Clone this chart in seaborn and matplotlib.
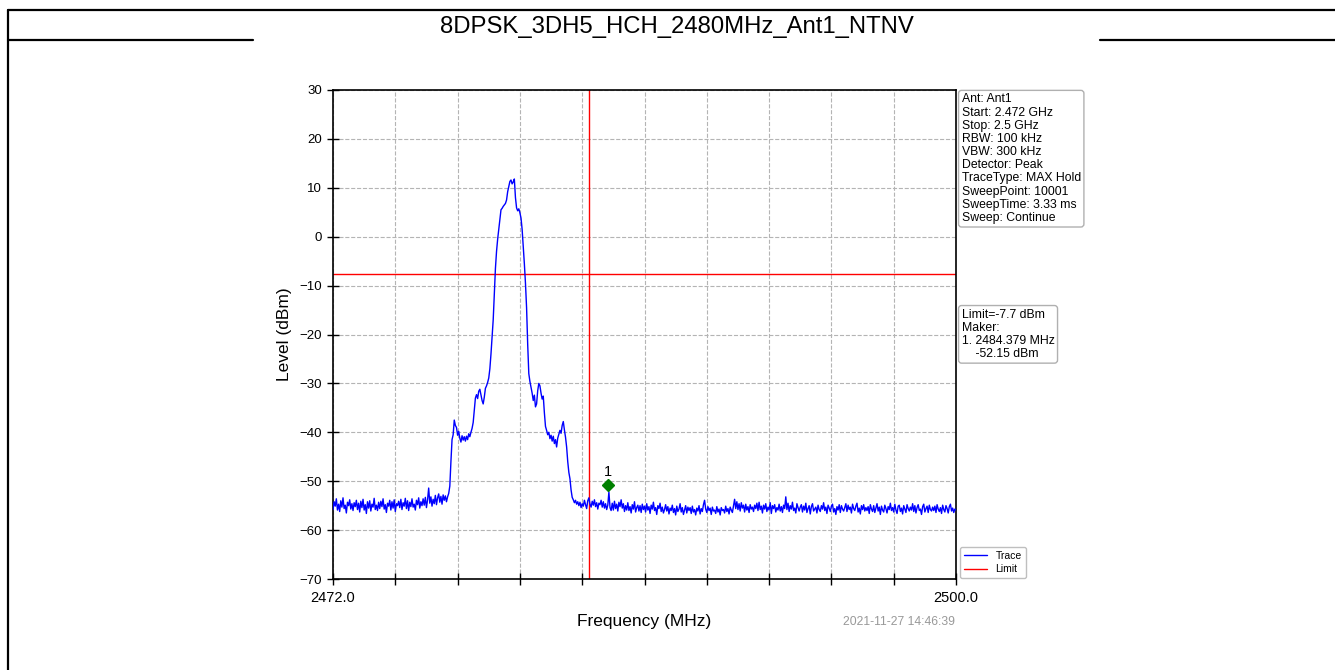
import numpy as np
import pandas as pd
import matplotlib
matplotlib.use("Agg")
import matplotlib.pyplot as plt
import matplotlib.transforms as mtransforms
from matplotlib.lines import Line2D
import seaborn as sns

# ---------------- data ----------------
title = "8DPSK_3DH5_HCH_2480MHz_Ant1_NTNV"
freq_start_mhz = 2472.0
freq_stop_mhz = 2500.0
freq_step_mhz = 0.05
limit_dbm = -7.7
band_edge_mhz = 2483.5
marker_freq_mhz = 2484.379
marker_level_dbm = -52.15
marker_label = "1"
y_ticks = [-70, -60, -50, -40, -30, -20, -10, 0, 10, 20, 30]
x_tick_labels = ["2472.0", "", "", "", "", "", "", "", "", "", "2500.0"]
timestamp = "2021-11-27 14:46:39"
info_lines = ["Ant: Ant1", "Start: 2.472 GHz", "Stop: 2.5 GHz", "RBW: 100 kHz",
              "VBW: 300 kHz", "Detector: Peak", "TraceType: MAX Hold",
              "SweepPoint: 10001", "SweepTime: 3.33 ms", "Sweep: Continue"]
limit_lines = ["Limit=-7.7 dBm", "Maker:", "1. 2484.379 MHz", "    -52.15 dBm"]

# trace levels (dBm), one row per MHz, 0.05 MHz apart
level_dbm = [
    -55.8, -54.2, -55.1, -53.6, -55.9, -54.7, -56.2, -54.0, -55.3, -53.4, -55.6, -54.9, -56.5, -54.3, -55.0, -53.8, -55.7, -54.6, -56.0, -54.4,  # 2472
    -55.2, -53.9, -55.8, -54.5, -56.3, -54.1, -55.4, -53.7, -55.9, -54.8, -56.6, -54.2, -55.5, -54.0, -56.1, -54.7, -55.3, -53.5, -55.8, -54.9,  # 2473
    -56.0, -54.3, -55.6, -54.1, -55.2, -53.6, -55.7, -54.8, -56.4, -54.5, -55.1, -53.9, -55.9, -54.2, -55.5, -53.8, -56.2, -54.6, -55.0, -54.1,  # 2474
    -55.4, -53.7, -55.8, -54.4, -55.1, -53.5, -55.6, -54.0, -56.0, -54.3, -55.2, -53.6, -55.3, -54.7, -55.9, -53.9, -54.8, -53.4, -55.5, -54.2,  # 2475
    -55.0, -53.6, -54.9, -53.3, -55.4, -53.8, -51.4, -54.5, -53.2, -55.1, -53.7, -54.6, -52.9, -54.8, -53.4, -52.6, -54.3, -53.1, -54.7, -52.8,  # 2476
    -53.9, -53.0, -54.2, -53.2, -52.5, -51.0, -46.0, -41.5, -40.5, -37.5, -38.6, -39.0, -40.6, -39.8, -41.2, -42.0, -40.7, -41.6, -40.9, -41.8,  # 2477
    -40.8, -41.5, -40.3, -40.9, -40.0, -39.2, -38.0, -35.5, -33.0, -32.3, -33.1, -31.6, -31.2, -32.4, -33.5, -34.2, -32.8, -31.0, -30.5, -29.8,  # 2478
    -28.9, -27.0, -24.0, -20.5, -17.0, -11.5, -6.5, -3.0, -0.5, 1.5, 3.5, 5.5, 5.8, 6.2, 6.5, 6.8, 7.5, 9.2, 10.2, 11.3,  # 2479
    11.6, 10.8, 11.2, 11.8, 8.0, 5.9, 5.3, 5.7, 4.9, 3.8, 1.5, -2.0, -5.5, -9.5, -14.5, -22.0, -28.0, -29.6, -30.8, -32.0,  # 2480
    -33.5, -32.4, -34.8, -34.2, -31.5, -30.0, -30.5, -32.0, -33.2, -32.6, -36.0, -38.8, -39.6, -40.5, -40.0, -41.3, -40.6, -41.8, -40.8, -42.3,  # 2481
    -41.5, -43.0, -41.2, -40.4, -39.6, -40.2, -38.6, -37.8, -39.5, -41.0, -43.0, -46.0, -48.2, -49.5, -51.8, -53.3, -53.8, -54.4, -53.9, -54.7,  # 2482
    -54.2, -55.0, -54.3, -55.4, -54.6, -55.1, -53.9, -54.8, -55.6, -54.0, -53.4, -54.7, -55.3, -54.1, -54.9, -53.8, -55.2, -54.4, -55.7, -54.5,  # 2483
    -54.8, -53.9, -55.3, -54.2, -55.5, -54.6, -55.8, -54.9, -52.2, -55.4, -56.0, -54.5, -55.9, -54.1, -55.6, -54.7, -56.1, -54.3, -55.2, -53.8,  # 2484
    -55.5, -54.6, -56.2, -55.0, -55.9, -54.4, -56.0, -55.2, -56.5, -54.8, -55.7, -54.2, -56.3, -55.4, -54.9, -56.1, -55.0, -56.4, -54.7, -55.8,  # 2485
    -55.1, -56.3, -54.6, -55.9, -55.2, -56.6, -54.9, -55.7, -54.3, -56.0, -55.4, -56.8, -55.0, -55.6, -54.5, -56.2, -55.3, -56.5, -55.8, -54.8,  # 2486
    -56.1, -55.2, -56.7, -55.5, -56.0, -54.9, -56.4, -55.6, -56.9, -55.1, -56.2, -55.7, -54.6, -56.3, -55.4, -56.8, -55.9, -55.0, -56.5, -55.3,  # 2487
    -56.0, -55.4, -56.6, -55.1, -56.3, -55.8, -56.9, -55.5, -56.1, -55.0, -56.7, -55.6, -56.2, -54.8, -53.9, -55.7, -56.4, -55.2, -56.0, -55.5,  # 2488
    -56.8, -55.3, -56.1, -55.9, -56.6, -55.2, -56.3, -55.7, -56.9, -55.4, -56.0, -55.8, -56.5, -55.1, -56.2, -55.6, -56.7, -55.3, -55.9, -56.4,  # 2489
    -55.0, -53.7, -55.6, -54.2, -55.8, -54.6, -56.1, -54.4, -55.5, -54.9, -56.3, -54.7, -55.9, -55.2, -56.4, -54.8, -55.7, -55.3, -56.2, -54.9,  # 2490
    -55.6, -54.5, -56.0, -54.3, -55.8, -55.1, -56.5, -54.9, -55.7, -54.6, -56.2, -55.3, -55.9, -54.4, -56.6, -55.0, -55.6, -54.8, -56.3, -55.4,  # 2491
    -55.9, -54.7, -56.1, -55.2, -56.4, -54.9, -55.6, -53.2, -55.8, -54.5, -56.2, -55.0, -55.7, -54.3, -56.0, -55.5, -56.5, -54.6, -55.4, -56.1,  # 2492
    -55.3, -54.8, -56.3, -55.1, -55.9, -54.5, -56.4, -55.6, -55.0, -56.7, -55.2, -54.6, -56.1, -55.7, -55.3, -56.5, -54.9, -55.8, -56.2, -55.0,  # 2493
    -55.7, -54.4, -56.0, -55.3, -56.6, -54.9, -55.5, -56.2, -55.1, -54.7, -56.3, -55.6, -56.8, -55.2, -55.9, -54.8, -56.4, -55.0, -55.7, -56.1,  # 2494
    -55.4, -54.6, -56.2, -54.9, -55.8, -55.3, -56.5, -54.7, -55.6, -56.0, -55.1, -54.5, -56.3, -55.5, -56.7, -55.0, -55.8, -54.8, -56.1, -55.4,  # 2495
    -56.0, -55.2, -56.6, -54.8, -55.7, -56.2, -55.0, -56.4, -55.5, -54.6, -56.1, -55.3, -56.8, -55.1, -55.9, -56.3, -54.9, -55.6, -56.5, -55.2,  # 2496
    -55.8, -54.5, -56.0, -55.4, -56.3, -54.7, -55.9, -56.6, -55.1, -54.9, -56.2, -55.5, -56.7, -55.0, -55.7, -56.4, -54.8, -55.6, -56.1, -55.3,  # 2497
    -55.9, -54.6, -56.2, -55.0, -56.5, -55.4, -54.8, -56.0, -55.7, -56.8, -55.2, -54.7, -56.3, -55.6, -55.1, -56.4, -54.9, -55.8, -56.1, -55.3,  # 2498
    -56.0, -55.1, -56.4, -54.8, -55.7, -56.2, -55.4, -56.6, -54.9, -55.8, -56.3, -55.0, -55.6, -56.5, -55.2, -54.7, -56.1, -55.5, -56.4, -55.7,  # 2499
    -55.9,  # 2500
]

# ---------------- figure ----------------
sns.set_style("ticks")
plt.rcParams["font.family"] = ["Liberation Sans", "DejaVu Sans"]
plt.rcParams["axes.unicode_minus"] = True
for key in ["text.color", "axes.labelcolor", "xtick.color", "ytick.color"]:
    plt.rcParams[key] = "black"

W, H = 1335, 670
fig = plt.figure(figsize=(W / 100, H / 100), dpi=100)
fig.patch.set_facecolor("white")

# outer frame and title band
frame_kw = dict(color="black", lw=1.6, transform=fig.transFigure, clip_on=False)
fig.add_artist(Line2D([8 / W, 8 / W], [0, 1 - 10 / H], **frame_kw))
fig.add_artist(Line2D([8 / W, 1], [1 - 10 / H, 1 - 10 / H], **frame_kw))
fig.add_artist(Line2D([8 / W, 253 / W], [1 - 40 / H, 1 - 40 / H], **frame_kw))
fig.add_artist(Line2D([1100 / W, 1], [1 - 40 / H, 1 - 40 / H], **frame_kw))
fig.text(677 / W, 1 - 26.5 / H, title, ha="center", va="center", fontsize=17.2)

ax = fig.add_axes([333 / W, 1 - 579 / H, 623 / W, 489 / H])

n = len(level_dbm)
freqs = freq_start_mhz + freq_step_mhz * np.arange(n)
df = pd.DataFrame({"Frequency (MHz)": freqs, "Level (dBm)": level_dbm})
sns.lineplot(data=df, x="Frequency (MHz)", y="Level (dBm)", ax=ax,
             color="#0000ff", lw=1.0, estimator=None, sort=False, zorder=3)

ax.axhline(limit_dbm, color="#ff0000", lw=1.0, zorder=2)
ax.axvline(band_edge_mhz, color="#ff0000", lw=1.0, zorder=2)

# marker
mk_tr = mtransforms.offset_copy(ax.transData, fig=fig, x=0, y=7, units="dots")
ax.plot([marker_freq_mhz], [marker_level_dbm], marker="D", color="#008000",
        ms=6, ls="none", transform=mk_tr, zorder=5)
txt_tr = mtransforms.offset_copy(ax.transData, fig=fig, x=0, y=20, units="dots")
ax.text(marker_freq_mhz, marker_level_dbm, marker_label, transform=txt_tr,
        ha="center", va="center", fontsize=10.5, zorder=5)

ax.set_xlim(freq_start_mhz, freq_stop_mhz)
ax.set_ylim(min(y_ticks), max(y_ticks))
xt = np.linspace(freq_start_mhz, freq_stop_mhz, len(x_tick_labels))
ax.set_xticks(xt)
ax.set_xticklabels(x_tick_labels)
ax.set_yticks(y_ticks)
ax.tick_params(axis="both", direction="inout", length=8, width=1.0,
               color="black")
ax.tick_params(axis="x", pad=5, labelsize=10.5)
ax.tick_params(axis="y", pad=4, labelsize=9.5)
ax.grid(True, ls="--", color="#b4b4b4", lw=0.8)
for s in ax.spines.values():
    s.set_visible(True)
    s.set_color("black")
    s.set_linewidth(1.2)
ax.set_xlabel("Frequency (MHz)", fontsize=12.5, labelpad=6)
ax.set_ylabel("Level (dBm)", fontsize=12.5, labelpad=5)

box = dict(boxstyle="round,pad=0.25", fc="white", ec="#b0b0b0", lw=1.0)
ax.text(1.009, 0.993, "\n".join(info_lines), transform=ax.transAxes,
        ha="left", va="top", fontsize=8.8, linespacing=1.13, bbox=box)
ax.text(1.009, 0.553, "\n".join(limit_lines), transform=ax.transAxes,
        ha="left", va="top", fontsize=8.8, linespacing=1.13, bbox=box)

handles = [Line2D([], [], color="#0000ff", lw=1.0),
           Line2D([], [], color="#ff0000", lw=1.0)]
leg = ax.legend(handles, ["Trace", "Limit"], loc="lower left",
                bbox_to_anchor=(1.003, -0.003), fontsize=7.5, frameon=True,
                fancybox=True, edgecolor="#b0b0b0", handlelength=2.2,
                borderpad=0.4, labelspacing=0.3, handletextpad=0.8,
                borderaxespad=0.2)
leg.get_frame().set_linewidth(1.0)

fig.text(955 / W, 1 - 622 / H, timestamp, ha="right", va="center",
         fontsize=8.7, color="#999999")

fig.savefig("out.png", dpi=100, facecolor="white")
